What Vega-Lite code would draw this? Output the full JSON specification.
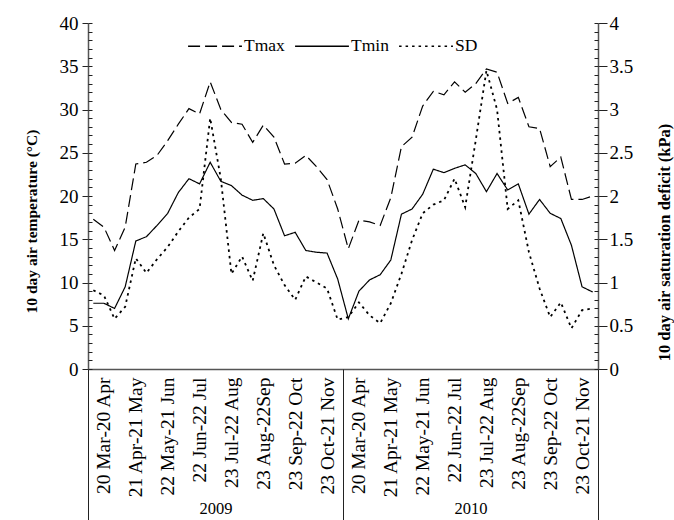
{
  "$schema": "https://vega.github.io/schema/vega-lite/v6.json",
  "width": 510,
  "height": 346,
  "autosize": {"type": "none"},
  "padding": {"left": 88, "top": 23, "right": 76, "bottom": 151},
  "background": "white",
  "config": {
    "font": "Liberation Serif",
    "view": {"stroke": null},
    "legend": {"labelFont": "Liberation Serif", "titleFont": "Liberation Serif"},
    "axis": {"grid": false, "labelFont": "Liberation Serif", "titleFont": "Liberation Serif", "labelColor": "black", "titleColor": "black", "tickColor": "#222", "domainColor": "#555", "labelFontSize": 19}
  },
  "data": {"values": [
    {"i":0,"series":"Tmax","value":17.3},{"i":1,"series":"Tmax","value":16.4},{"i":2,"series":"Tmax","value":13.7},{"i":3,"series":"Tmax","value":16.4},{"i":4,"series":"Tmax","value":23.7},{"i":5,"series":"Tmax","value":23.9},{"i":6,"series":"Tmax","value":24.7},{"i":7,"series":"Tmax","value":26.4},{"i":8,"series":"Tmax","value":28.3},{"i":9,"series":"Tmax","value":30.1},{"i":10,"series":"Tmax","value":29.5},{"i":11,"series":"Tmax","value":33.2},{"i":12,"series":"Tmax","value":30.0},{"i":13,"series":"Tmax","value":28.5},{"i":14,"series":"Tmax","value":28.3},{"i":15,"series":"Tmax","value":26.2},{"i":16,"series":"Tmax","value":28.2},{"i":17,"series":"Tmax","value":26.8},{"i":18,"series":"Tmax","value":23.7},{"i":19,"series":"Tmax","value":23.8},{"i":20,"series":"Tmax","value":24.7},{"i":21,"series":"Tmax","value":23.4},{"i":22,"series":"Tmax","value":21.9},{"i":23,"series":"Tmax","value":18.5},
    {"i":24,"series":"Tmax","value":13.9},{"i":25,"series":"Tmax","value":17.2},{"i":26,"series":"Tmax","value":17.0},{"i":27,"series":"Tmax","value":16.6},{"i":28,"series":"Tmax","value":19.8},{"i":29,"series":"Tmax","value":25.7},{"i":30,"series":"Tmax","value":26.8},{"i":31,"series":"Tmax","value":30.4},{"i":32,"series":"Tmax","value":32.1},{"i":33,"series":"Tmax","value":31.7},{"i":34,"series":"Tmax","value":33.2},{"i":35,"series":"Tmax","value":32.0},{"i":36,"series":"Tmax","value":33.0},{"i":37,"series":"Tmax","value":34.7},{"i":38,"series":"Tmax","value":34.3},{"i":39,"series":"Tmax","value":30.7},{"i":40,"series":"Tmax","value":31.4},{"i":41,"series":"Tmax","value":28.0},{"i":42,"series":"Tmax","value":27.8},{"i":43,"series":"Tmax","value":23.4},{"i":44,"series":"Tmax","value":24.5},{"i":45,"series":"Tmax","value":19.6},{"i":46,"series":"Tmax","value":19.6},{"i":47,"series":"Tmax","value":20.0},
    {"i":0,"series":"Tmin","value":7.6},{"i":1,"series":"Tmin","value":7.6},{"i":2,"series":"Tmin","value":7.0},{"i":3,"series":"Tmin","value":9.5},{"i":4,"series":"Tmin","value":14.8},{"i":5,"series":"Tmin","value":15.3},{"i":6,"series":"Tmin","value":16.6},{"i":7,"series":"Tmin","value":18.0},{"i":8,"series":"Tmin","value":20.4},{"i":9,"series":"Tmin","value":22.0},{"i":10,"series":"Tmin","value":21.4},{"i":11,"series":"Tmin","value":23.9},{"i":12,"series":"Tmin","value":21.7},{"i":13,"series":"Tmin","value":21.2},{"i":14,"series":"Tmin","value":20.1},{"i":15,"series":"Tmin","value":19.5},{"i":16,"series":"Tmin","value":19.7},{"i":17,"series":"Tmin","value":18.5},{"i":18,"series":"Tmin","value":15.4},{"i":19,"series":"Tmin","value":15.8},{"i":20,"series":"Tmin","value":13.7},{"i":21,"series":"Tmin","value":13.5},{"i":22,"series":"Tmin","value":13.4},{"i":23,"series":"Tmin","value":10.4},
    {"i":24,"series":"Tmin","value":5.8},{"i":25,"series":"Tmin","value":9.0},{"i":26,"series":"Tmin","value":10.3},{"i":27,"series":"Tmin","value":10.9},{"i":28,"series":"Tmin","value":12.6},{"i":29,"series":"Tmin","value":17.9},{"i":30,"series":"Tmin","value":18.5},{"i":31,"series":"Tmin","value":20.2},{"i":32,"series":"Tmin","value":23.1},{"i":33,"series":"Tmin","value":22.7},{"i":34,"series":"Tmin","value":23.2},{"i":35,"series":"Tmin","value":23.6},{"i":36,"series":"Tmin","value":22.6},{"i":37,"series":"Tmin","value":20.5},{"i":38,"series":"Tmin","value":22.6},{"i":39,"series":"Tmin","value":20.7},{"i":40,"series":"Tmin","value":21.4},{"i":41,"series":"Tmin","value":17.9},{"i":42,"series":"Tmin","value":19.6},{"i":43,"series":"Tmin","value":18.0},{"i":44,"series":"Tmin","value":17.4},{"i":45,"series":"Tmin","value":14.3},{"i":46,"series":"Tmin","value":9.5},{"i":47,"series":"Tmin","value":8.9},
    {"i":0,"series":"SD","value":0.91},{"i":1,"series":"SD","value":0.85},{"i":2,"series":"SD","value":0.58},{"i":3,"series":"SD","value":0.72},{"i":4,"series":"SD","value":1.28},{"i":5,"series":"SD","value":1.11},{"i":6,"series":"SD","value":1.27},{"i":7,"series":"SD","value":1.41},{"i":8,"series":"SD","value":1.59},{"i":9,"series":"SD","value":1.75},{"i":10,"series":"SD","value":1.85},{"i":11,"series":"SD","value":2.90},{"i":12,"series":"SD","value":2.20},{"i":13,"series":"SD","value":1.10},{"i":14,"series":"SD","value":1.30},{"i":15,"series":"SD","value":1.02},{"i":16,"series":"SD","value":1.57},{"i":17,"series":"SD","value":1.20},{"i":18,"series":"SD","value":0.97},{"i":19,"series":"SD","value":0.80},{"i":20,"series":"SD","value":1.07},{"i":21,"series":"SD","value":1.00},{"i":22,"series":"SD","value":0.93},{"i":23,"series":"SD","value":0.57},
    {"i":24,"series":"SD","value":0.60},{"i":25,"series":"SD","value":0.77},{"i":26,"series":"SD","value":0.62},{"i":27,"series":"SD","value":0.53},{"i":28,"series":"SD","value":0.76},{"i":29,"series":"SD","value":1.10},{"i":30,"series":"SD","value":1.49},{"i":31,"series":"SD","value":1.80},{"i":32,"series":"SD","value":1.90},{"i":33,"series":"SD","value":1.95},{"i":34,"series":"SD","value":2.20},{"i":35,"series":"SD","value":1.87},{"i":36,"series":"SD","value":2.65},{"i":37,"series":"SD","value":3.45},{"i":38,"series":"SD","value":3.00},{"i":39,"series":"SD","value":1.85},{"i":40,"series":"SD","value":1.95},{"i":41,"series":"SD","value":1.35},{"i":42,"series":"SD","value":0.93},{"i":43,"series":"SD","value":0.60},{"i":44,"series":"SD","value":0.77},{"i":45,"series":"SD","value":0.47},{"i":46,"series":"SD","value":0.68},{"i":47,"series":"SD","value":0.70}
  ]},
  "layer": [
    {
      "transform": [{"filter": "datum.series !== 'SD'"}],
      "mark": {"type": "line", "color": "black", "strokeWidth": 1.2},
      "encoding": {
        "x": {"field": "i", "type": "quantitative", "scale": {"domain": [-0.5, 47.5], "nice": false, "zero": false},
          "axis": {"orient": "bottom", "title": null, "values": [1,4,7,10,13,16,19,22,25,28,31,34,37,40,43,46],
            "labelExpr": "['20 Mar-20 Apr','21 Apr-21 May','22 May-21 Jun','22 Jun-22 Jul','23 Jul-22 Aug','23 Aug-22Sep','23 Sep-22 Oct','23 Oct-21 Nov'][((datum.value - 1) / 3) % 8]",
            "labelAngle": 270, "labelPadding": 8, "labelFont": "Liberation Serif", "labelFontSize": 19.5, "ticks": false, "domain": true, "domainWidth": 1.5, "labelOverlap": false, "labelFlush": false, "labelBound": false}},
        "y": {"field": "value", "type": "quantitative", "scale": {"domain": [0, 40], "nice": false},
          "axis": {"orient": "left", "values": [0,5,10,15,20,25,30,35,40], "tickSize": 6, "labelPadding": 4, "domainWidth": 1.5, "labelFont": "Liberation Serif", "labelFontSize": 19,
            "title": "10 day air temperature (°C)", "titleFont": "Liberation Serif", "titleFontWeight": "bold", "titleFontSize": 15.5, "titleAngle": 270, "titleAlign": "center", "titleBaseline": "middle", "titleX": -57, "titleY": 198}},
        "strokeDash": {"field": "series", "type": "nominal",
          "scale": {"domain": ["Tmax", "Tmin", "SD"], "range": [[12, 5], [1, 0], [2.5, 4]]},
          "legend": {"orient": "none", "legendX": 99, "legendY": -5, "direction": "horizontal", "title": null, "symbolType": "stroke", "symbolSize": 2900, "symbolStrokeColor": "black", "symbolStrokeWidth": 1.3, "labelFont": "Liberation Serif", "labelFontSize": 17.5, "labelColor": "black", "labelOffset": 1, "columnPadding": 7}}
      }
    },
    {
      "transform": [{"filter": "datum.series === 'SD'"}],
      "mark": {"type": "line", "color": "black", "strokeWidth": 1.8},
      "encoding": {
        "x": {"field": "i", "type": "quantitative", "scale": {"domain": [-0.5, 47.5], "nice": false, "zero": false},
          "axis": {"orient": "bottom", "title": null, "values": [-0.5, 23.5, 47.5], "labels": false, "domain": false, "ticks": true, "tickSize": 151, "tickWidth": 1, "tickColor": "#222"}},
        "y": {"field": "value", "type": "quantitative", "scale": {"domain": [0, 4], "nice": false},
          "axis": {"orient": "right", "values": [0,0.5,1,1.5,2,2.5,3,3.5,4], "labelExpr": "'' + datum.value", "tickSize": 9, "labelPadding": 2, "domainWidth": 1.5, "labelFont": "Liberation Serif", "labelFontSize": 19,
            "title": "10 day air saturation deficit (kPa)", "titleFont": "Liberation Serif", "titleFontWeight": "bold", "titleFontSize": 16.5, "titleAngle": 270, "titleAlign": "center", "titleBaseline": "middle", "titleX": 66, "titleY": 219}},
        "strokeDash": {"field": "series", "type": "nominal"}
      }
    },
    {
      "transform": [{"filter": "datum.series !== 'SD'"}],
      "mark": {"type": "point", "opacity": 0},
      "encoding": {
        "x": {"field": "i", "type": "quantitative", "scale": {"domain": [-0.5, 47.5], "nice": false, "zero": false},
          "axis": {"orient": "bottom", "title": null, "values": [11.5, 35.5], "labelExpr": "datum.value < 24 ? '2009' : '2010'", "ticks": false, "domain": false, "labelPadding": 131, "labelAngle": 0, "labelFont": "Liberation Serif", "labelFontSize": 16.5, "labelOverlap": false, "labelFlush": false}},
        "y": {"field": "value", "type": "quantitative", "scale": {"domain": [0, 40], "nice": false},
          "axis": {"orient": "left", "values": [0,1,2,3,4,5,6,7,8,9,10,11,12,13,14,15,16,17,18,19,20,21,22,23,24,25,26,27,28,29,30,31,32,33,34,35,36,37,38,39,40], "tickSize": -4, "labels": false, "domain": false, "title": null}}
      }
    },
    {
      "transform": [{"filter": "datum.series === 'SD'"}],
      "mark": {"type": "point", "opacity": 0},
      "encoding": {
        "x": {"field": "i", "type": "quantitative", "scale": {"domain": [-0.5, 47.5], "nice": false, "zero": false}, "axis": null},
        "y": {"field": "value", "type": "quantitative", "scale": {"domain": [0, 4], "nice": false},
          "axis": {"orient": "right", "values": [0,0.1,0.2,0.3,0.4,0.5,0.6,0.7,0.8,0.9,1,1.1,1.2,1.3,1.4,1.5,1.6,1.7,1.8,1.9,2,2.1,2.2,2.3,2.4,2.5,2.6,2.7,2.8,2.9,3,3.1,3.2,3.3,3.4,3.5,3.6,3.7,3.8,3.9,4], "tickSize": -4, "labels": false, "domain": false, "title": null}}
      }
    }
  ],
  "resolve": {"scale": {"x": "independent", "y": "independent"}, "axis": {"x": "independent", "y": "independent"}}
}
